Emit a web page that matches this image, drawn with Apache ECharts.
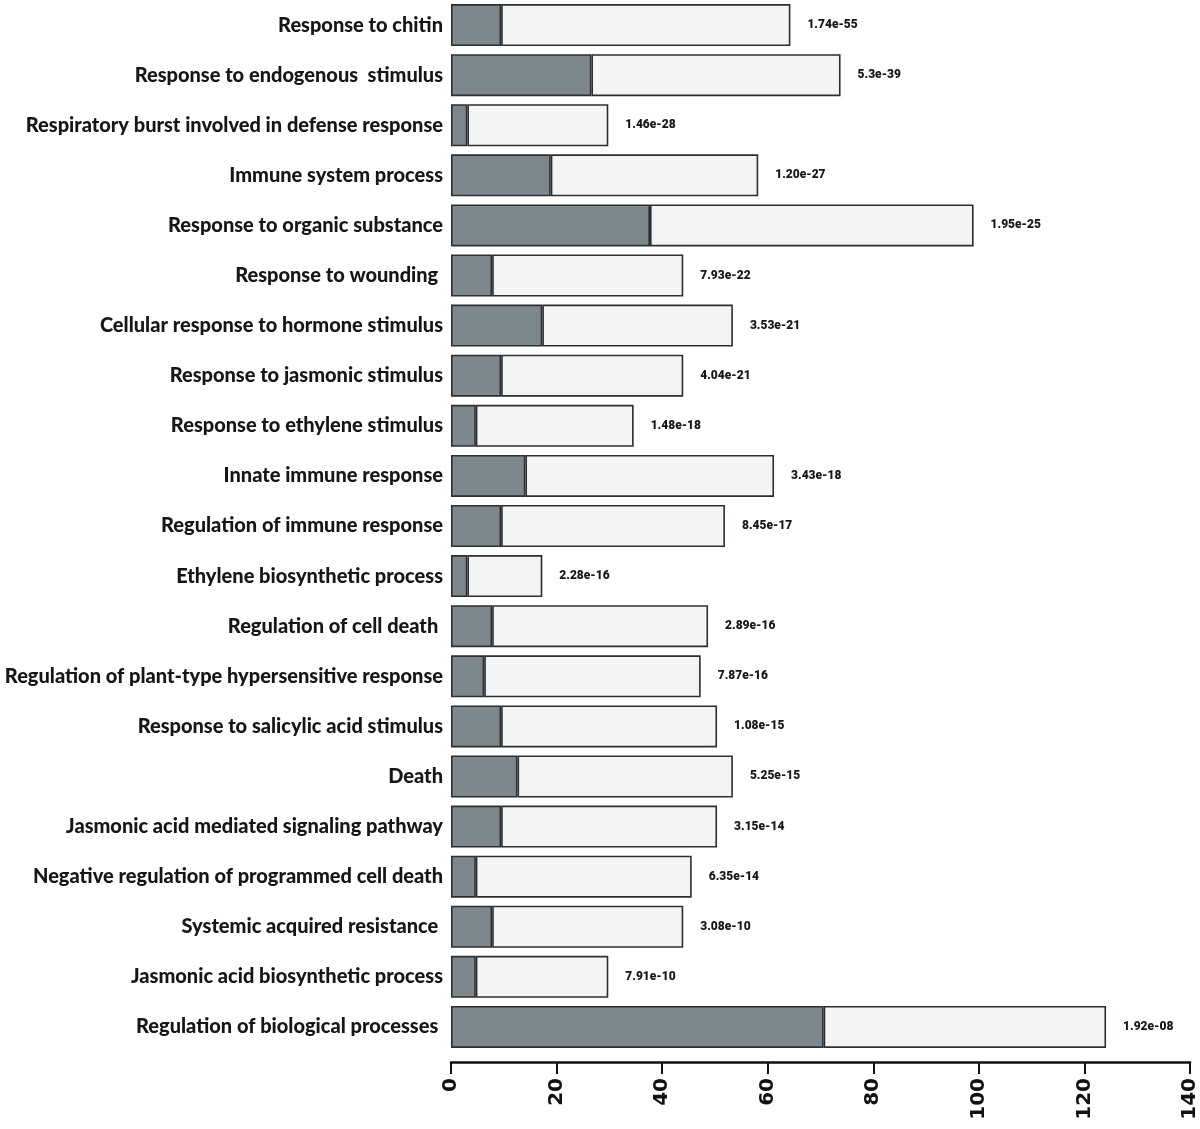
<!DOCTYPE html>
<html>
<head>
<meta charset="utf-8">
<script src="https://cdn.jsdelivr.net/npm/echarts@6/dist/echarts.min.js"></script>
<style>
html,body{margin:0;padding:0;background:#fff;}
#chart{width:1200px;height:1129px;}
</style>
</head>
<body>
<div id="chart"></div>
<script>
var categories = [
  "Response to chitin",
  "Response to endogenous  stimulus",
  "Respiratory burst involved in defense response",
  "Immune system process",
  "Response to organic substance",
  "Response to wounding ",
  "Cellular response to hormone stimulus",
  "Response to jasmonic stimulus",
  "Response to ethylene stimulus",
  "Innate immune response",
  "Regulation of immune response",
  "Ethylene biosynthetic process",
  "Regulation of cell death ",
  "Regulation of plant-type hypersensitive response",
  "Response to salicylic acid stimulus",
  "Death",
  "Jasmonic acid mediated signaling pathway",
  "Negative regulation of programmed cell death",
  "Systemic acquired resistance ",
  "Jasmonic acid biosynthetic process",
  "Regulation of biological processes "
];
var darkValues = [9.5, 26.6, 3.1, 18.9, 37.7, 7.8, 17.3, 9.5, 4.7, 14.1, 9.5, 3.1, 7.8, 6.3, 9.5, 12.6, 9.5, 4.7, 7.8, 4.7, 70.6];
var totalValues = [64.3, 73.8, 29.8, 58.2, 99.0, 44.0, 53.4, 44.0, 34.6, 61.2, 51.9, 17.3, 48.7, 47.3, 50.4, 53.4, 50.4, 45.6, 44.0, 29.8, 124.1];
var pValues = ["1.74e-55", "5.3e-39", "1.46e-28", "1.20e-27", "1.95e-25", "7.93e-22", "3.53e-21", "4.04e-21", "1.48e-18", "3.43e-18", "8.45e-17", "2.28e-16", "2.89e-16", "7.87e-16", "1.08e-15", "5.25e-15", "3.15e-14", "6.35e-14", "3.08e-10", "7.91e-10", "1.92e-08"];
var xTicks = [0, 20, 40, 60, 80, 100, 120, 140];

var lightValues = totalValues.map(function (t, i) { return +(t - darkValues[i]).toFixed(2); });

var chart = echarts.init(document.getElementById('chart'), null, {renderer: 'canvas'});
chart.setOption({
  animation: false,
  backgroundColor: '#ffffff',
  grid: {left: 451, right: 2, top: 0, height: 1052, containLabel: false},
  xAxis: {
    type: 'value',
    min: xTicks[0],
    max: xTicks[xTicks.length - 1],
    interval: 20,
    offset: 10,
    axisLine: {show: true, lineStyle: {color: '#111', width: 2.5}},
    axisTick: {show: true, length: 12, lineStyle: {color: '#111', width: 2}},
    splitLine: {show: false},
    axisLabel: {
      rotate: 90,
      margin: 16,
      color: '#111',
      fontFamily: 'DejaVu Sans',
      fontWeight: 'bold',
      fontSize: 20
    }
  },
  yAxis: {
    type: 'category',
    data: categories,
    inverse: true,
    axisLine: {show: false},
    axisTick: {show: false},
    axisLabel: {
      margin: 8,
      color: '#161616',
      fontFamily: 'Lato',
      fontWeight: 900,
      fontSize: 20
    }
  },
  series: [
    {
      type: 'bar',
      stack: 'total',
      data: darkValues,
      barWidth: 42,
      itemStyle: {color: '#7d878e', borderColor: '#2e2e2e', borderWidth: 1.6},
      silent: true
    },
    {
      type: 'bar',
      stack: 'total',
      data: lightValues,
      barWidth: 42,
      itemStyle: {color: '#f3f4f5', borderColor: '#2e2e2e', borderWidth: 1.6},
      label: {
        show: true,
        position: 'right',
        distance: 17,
        color: '#161616',
        fontFamily: 'Roboto',
        fontWeight: 900,
        fontSize: 12,
        formatter: function (p) { return pValues[p.dataIndex]; }
      },
      silent: true
    }
  ]
});
</script>
</body>
</html>
